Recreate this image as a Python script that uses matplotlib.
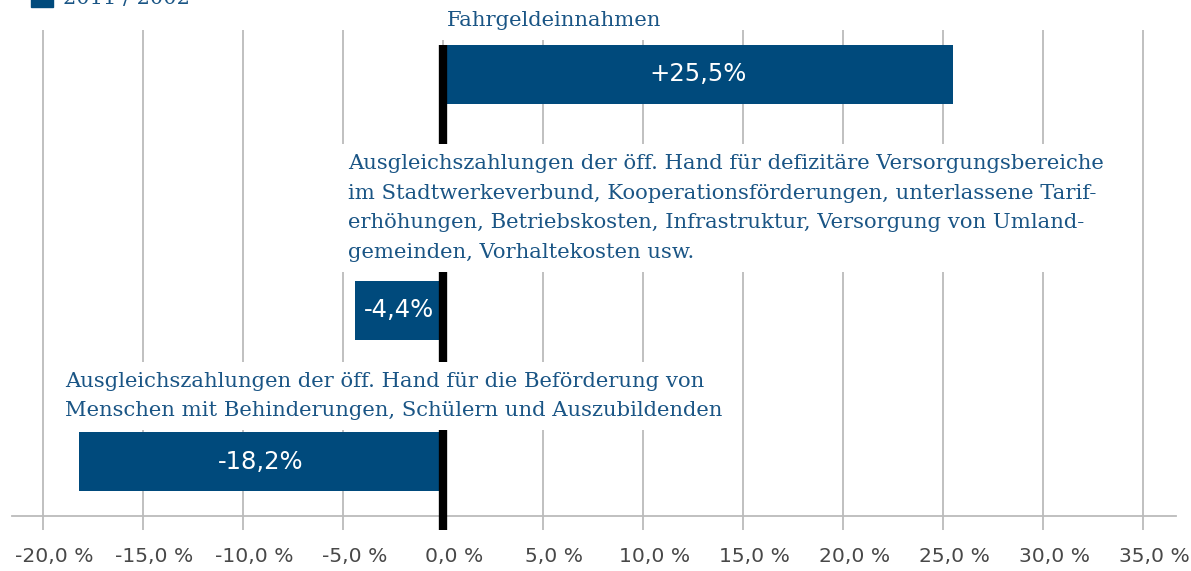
import matplotlib.pyplot as plt
import matplotlib.transforms as mtransforms
from matplotlib.patches import Rectangle

labels = [
    'Fahrgeldeinnahmen',
    'Ausgleichszahlungen der öff. Hand für defizitäre Versorgungsbereiche\n'
    'im Stadtwerkeverbund, Kooperationsförderungen, unterlassene Tarif-\n'
    'erhöhungen, Betriebskosten, Infrastruktur, Versorgung von Umland-\n'
    'gemeinden, Vorhaltekosten usw.',
    'Ausgleichszahlungen der öff. Hand für die Beförderung von\n'
    'Menschen mit Behinderungen, Schülern und Auszubildenden',
]
values = [25.5, -4.4, -18.2]
value_labels = ['+25,5%', '-4,4%', '-18,2%']
ticks = [-20, -15, -10, -5, 0, 5, 10, 15, 20, 25, 30, 35]
tick_labels = ['-20,0 %', '-15,0 %', '-10,0 %', '-5,0 %', '0,0 %', '5,0 %',
               '10,0 %', '15,0 %', '20,0 %', '25,0 %', '30,0 %', '35,0 %']
legend_label = '2011 / 2002'

bar_color = '#004a7c'
text_blue = '#1a5585'
grid_color = '#bbbbbb'

W, H = 1191, 571
fig = plt.figure(figsize=(W / 100, H / 100), dpi=100)
ax = fig.add_axes([12 / W, 1 - 516 / H, (1176 - 12) / W, (516 - 30) / H])

# vertical layout in pixel units (top = 30, bottom = 516)
ax.set_ylim(516, 30)
ax.set_xlim(-21.55, 36.65)
centers = [74.5, 310, 461.5]
label_y = [21, 208, 396]
label_x = [0.2, -4.75, -18.9]

ax.barh(centers, values, height=59, color=bar_color, zorder=3)
for c, v, vl in zip(centers, values, value_labels):
    ax.text(v / 2, c, vl, color='white', fontsize=17.5, ha='center', va='center',
            family='DejaVu Sans', zorder=7)

for lx, ly, lab in zip(label_x, label_y, labels):
    ax.text(lx, ly, lab, color=text_blue, fontsize=15.2, family='DejaVu Serif',
            ha='left', va='center', linespacing=1.72, zorder=6,
            bbox=dict(boxstyle='square,pad=0.45', facecolor='white',
                      edgecolor='none'))

ax.axvline(0, ymin=-14 / 486, ymax=(516 - 45) / 486, color='black', lw=6,
           zorder=5, clip_on=False, solid_capstyle='butt')

ax.set_xticks(ticks)
ax.set_xticklabels(tick_labels)
ax.set_yticks([])
ax.grid(axis='x', color=grid_color, lw=1.3, zorder=0)
ax.tick_params(axis='x', length=10, width=1.3, color=grid_color, pad=12,
               labelsize=14.6, labelcolor='#484848')
# the number sits on the gridline, the " %" hangs to the right
shift = mtransforms.ScaledTranslation(0.115, 0, fig.dpi_scale_trans)
for lbl in ax.get_xticklabels():
    lbl.set_transform(lbl.get_transform() + shift)
for s in ['top', 'left', 'right']:
    ax.spines[s].set_visible(False)
ax.spines['bottom'].set_color(grid_color)
ax.spines['bottom'].set_linewidth(1.3)

# legend (cut off at the top edge)
fig.patches.append(Rectangle((31 / W, 1 - 7 / H), 22 / W, 20 / H,
                             transform=fig.transFigure, color=bar_color))
fig.text(63 / W, 1 + 1 / H, legend_label, color=text_blue, fontsize=15,
         family='DejaVu Serif', va='center', ha='left')

plt.savefig('out.png', dpi=100)
plt.close()
